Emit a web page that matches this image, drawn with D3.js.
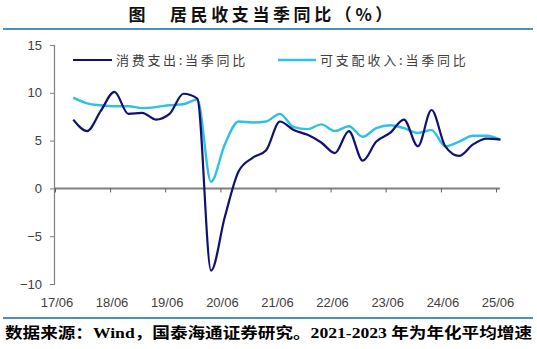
<!DOCTYPE html>
<html><head><meta charset="utf-8">
<script src="https://cdn.jsdelivr.net/npm/d3@7"></script>
<style>body{margin:0;background:#fff;}svg{display:block;}</style>
</head><body>
<script>
const quarters = ["2017-09-30","2017-12-31","2018-03-31","2018-06-30","2018-09-30","2018-12-31",
"2019-03-31","2019-06-30","2019-09-30","2019-12-31","2020-03-31","2020-06-30","2020-09-30","2020-12-31",
"2021-03-31","2021-06-30","2021-09-30","2021-12-31","2022-03-31","2022-06-30","2022-09-30","2022-12-31",
"2023-03-31","2023-06-30","2023-09-30","2023-12-31","2024-03-31","2024-06-30","2024-09-30","2024-12-31",
"2025-03-31","2025-06-30"];
const spending = [7.2,6.0,8.1,10.1,7.8,7.9,7.2,7.8,9.9,9.4,-8.6,-3.0,1.8,3.2,4.0,7.0,6.1,5.6,4.8,3.7,6.0,2.9,4.9,5.8,7.2,4.4,8.2,4.4,3.4,4.6,5.2,5.1];
const income = [9.5,8.9,8.7,8.6,8.6,8.4,8.5,8.7,8.8,9.3,0.7,4.6,7.0,6.9,7.0,7.8,6.4,6.2,6.7,6.0,6.5,5.4,6.3,6.6,6.3,5.8,6.1,4.4,4.9,5.5,5.5,5.1];
const seriesNames = ["消费支出:当季同比","可支配收入:当季同比"];
const xTickLabels = ["17/06","18/06","19/06","20/06","21/06","22/06","23/06","24/06","25/06"];
const yTicks = [15,10,5,0,-5,-10];
const title = "居民收支当季同比（%）";
const footer = "数据来源：Wind，国泰海通证券研究。2021-2023 年为年化平均增速";

const W = 537, H = 349;
const svg = d3.select("body").append("svg").attr("width", W).attr("height", H);
const parse = d3.timeParse("%Y-%m-%d");
const dates = quarters.map(parse);
const tickDates = xTickLabels.map(s => new Date(2000 + +s.slice(0,2), 5, 1));

const x = d3.scaleTime().domain([tickDates[0], tickDates[tickDates.length-1]]).range([55, 496]);
const y = d3.scaleLinear().domain([-10, 15]).range([284, 45]);

// title
svg.append("text").attr("x", 137).attr("y", 21).attr("text-anchor","middle")
  .attr("font-family","Noto Sans CJK SC").attr("font-size",17).attr("font-weight",700).attr("fill","#111").text("图");
svg.append("text").attr("x", 170).attr("y", 21)
  .attr("font-family","Noto Sans CJK SC").attr("font-size",17).attr("font-weight",700).attr("fill","#111")
  .attr("letter-spacing",3.6).text(title);
svg.append("line").attr("x1",3).attr("x2",533).attr("y1",29).attr("y2",29).attr("stroke","#4f90b9").attr("stroke-width",2);
svg.append("line").attr("x1",3).attr("x2",533).attr("y1",318).attr("y2",318).attr("stroke","#4f90b9").attr("stroke-width",2);

// y axis
const yAxis = d3.axisLeft(y).tickValues(yTicks).tickSize(4).tickPadding(8);
const gy = svg.append("g").attr("transform","translate(54,0)").call(yAxis);
gy.select(".domain").attr("stroke","#808080").attr("stroke-width",1.2);
gy.selectAll(".tick line").attr("stroke","#808080");
gy.selectAll(".tick text").attr("font-family","Liberation Sans, Arial").attr("font-size",13).attr("fill","#404040");

// x axis at zero
const xAxis = d3.axisBottom(x).tickValues(tickDates).tickSize(4).tickFormat(() => "");
const gx = svg.append("g").attr("transform",`translate(0,${y(0)})`).call(xAxis);
gx.select(".domain").attr("d", `M54,0H500`).attr("stroke","#808080").attr("stroke-width",2);
gx.selectAll(".tick line").attr("stroke","#606060");

// x labels at bottom
svg.append("g").selectAll("text").data(tickDates).join("text")
  .attr("x", (d) => x(d) + 2).attr("y", 307).attr("text-anchor","middle")
  .attr("font-family","Liberation Sans, Arial").attr("font-size",13).attr("fill","#404040")
  .text((d,i) => xTickLabels[i]);

// lines
const curve = d3.curveMonotoneX;
const line = d3.line().x((d,i) => x(dates[i])).y(d => y(d)).curve(curve);
svg.append("path").datum(income).attr("d", line).attr("fill","none").attr("stroke","#2ec0e6").attr("stroke-width",2.4);
svg.append("path").datum(spending).attr("d", line).attr("fill","none").attr("stroke","#111173").attr("stroke-width",2.2);

// legend
const leg = [{x1:73,x2:112,tx:116,c:"#111173",w:2.2,ls:2.7},{x1:278,x2:316,tx:320,c:"#2ec0e6",w:2.4,ls:2.8}];
leg.forEach((l,i) => {
  svg.append("line").attr("x1",l.x1).attr("x2",l.x2).attr("y1",60).attr("y2",60).attr("stroke",l.c).attr("stroke-width",l.w);
  svg.append("text").attr("x",l.tx).attr("y",65).attr("font-family","Noto Sans CJK SC").attr("font-size",13)
    .attr("letter-spacing",l.ls).attr("fill","#404040").text(seriesNames[i]);
});

// footer
svg.append("text").attr("x",5).attr("y",338).attr("font-family","Liberation Serif, Noto Sans CJK SC")
  .attr("font-size",15).attr("font-weight","bold").attr("fill","#000")
  .attr("textLength",527).attr("lengthAdjust","spacingAndGlyphs").text(footer);
</script>
</body></html>
